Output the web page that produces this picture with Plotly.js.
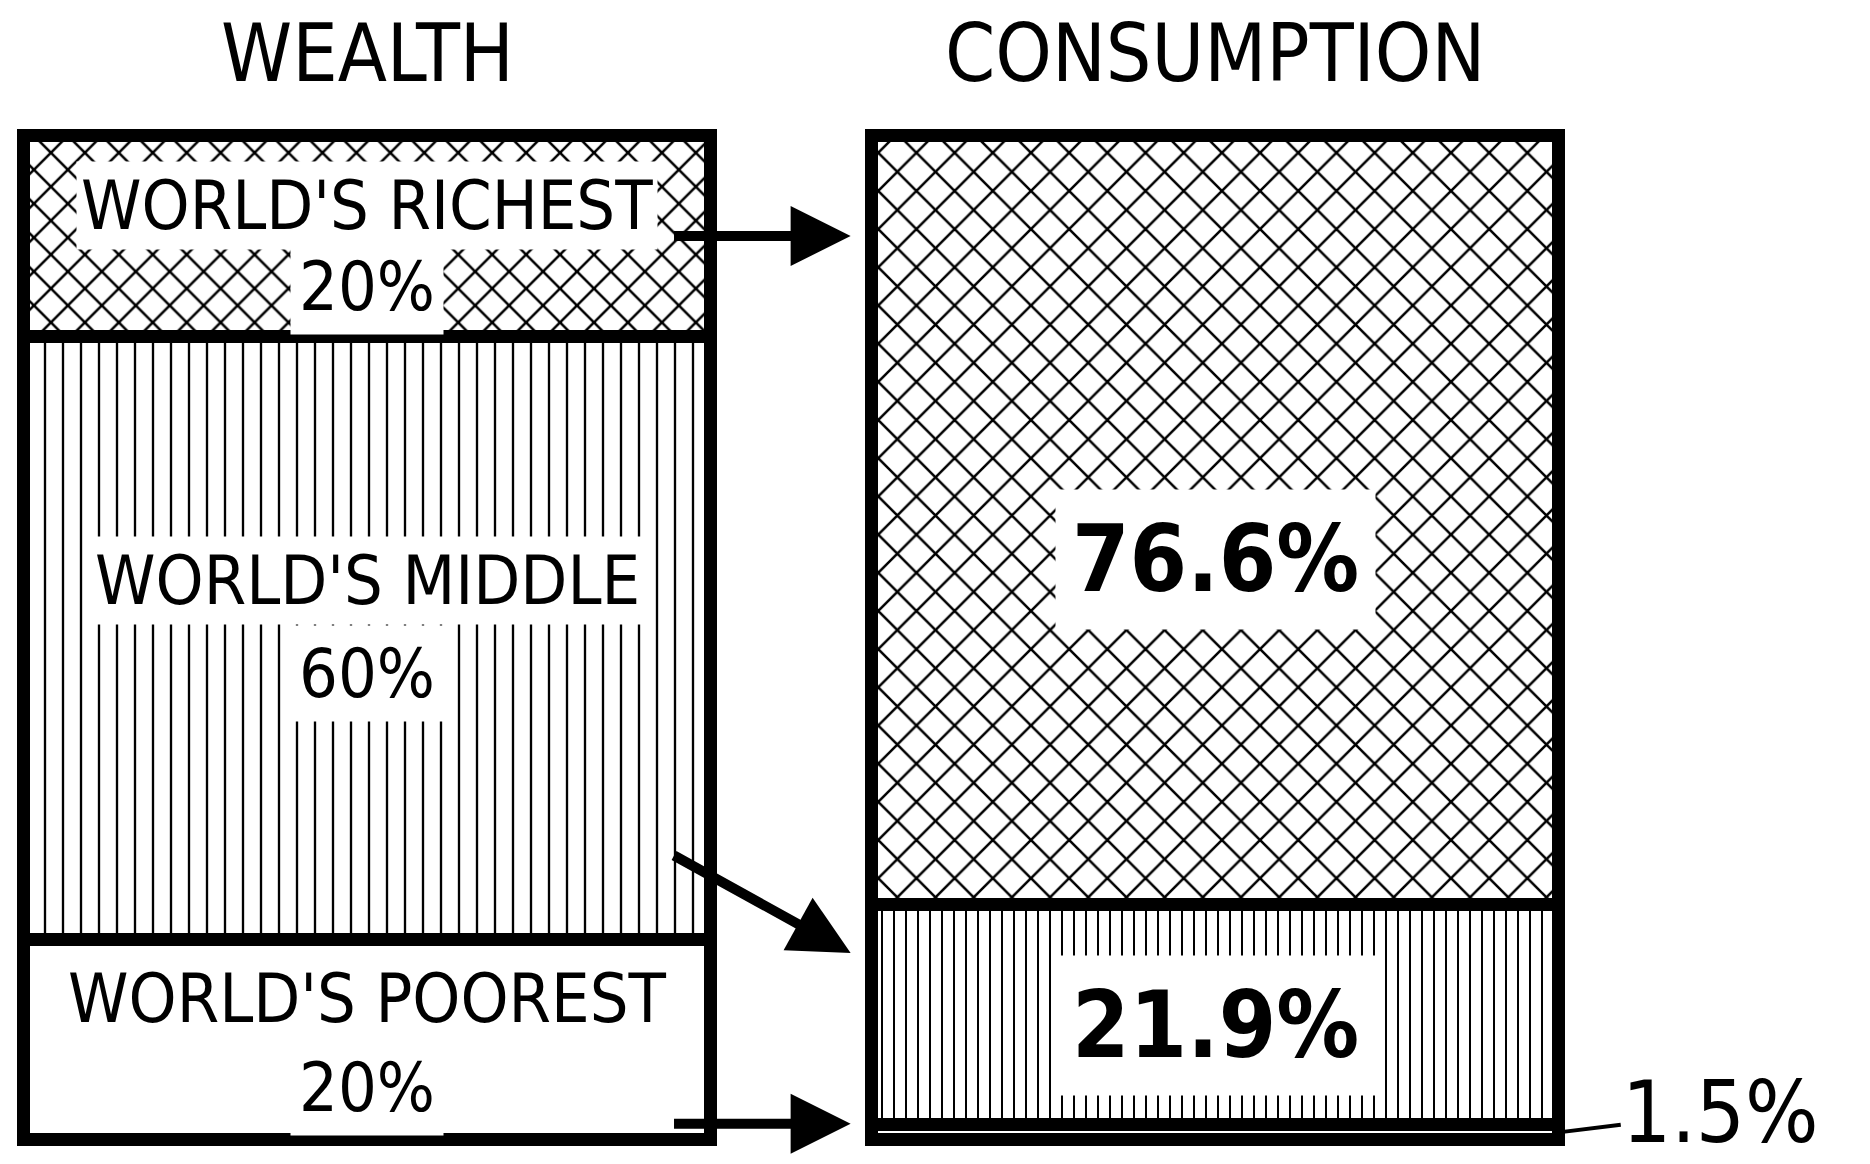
<!DOCTYPE html>
<html>
<head>
<meta charset="utf-8">
<script src="https://cdn.plot.ly/plotly-3.0.1.min.js"></script>
<style>html,body{margin:0;padding:0;background:#fff}#chart{width:1870px;height:1164px}</style>
</head>
<body>
<div id="chart"></div>
<script>
// ---- data ----
const columns = ['WEALTH', 'CONSUMPTION'];
const segmentNames = ["WORLD'S POOREST", "WORLD'S MIDDLE", "WORLD'S RICHEST"];
const wealthShares = [20, 60, 20];          // poorest, middle, richest
const consumptionShares = [1.5, 21.9, 76.6]; // poorest, middle, richest

// ---- styling ----
const FONT = '"Liberation Sans Narrow", "DejaVu Sans Condensed", "Roboto Condensed", "Liberation Sans", sans-serif';
const patterns = [
  {shape: '', size: [20, 20], solidity: [0.1, 0.1]},
  {shape: '|', size: [18, 12], solidity: [0.13, 0.17]},
  {shape: 'x', size: [24, 27], solidity: [0.2, 0.18]}
];
const nameShift = [41, 57, 31];
const pctShift = [-48, -36, -50];
const xs = [0, 1];
const BARW = 0.81;

const traces = segmentNames.map((name, i) => ({
  type: 'bar',
  name: name,
  x: xs,
  y: [wealthShares[i], consumptionShares[i]],
  width: BARW,
  marker: {
    color: '#ffffff',
    line: {color: '#000000', width: 13},
    pattern: {
      shape: patterns[i].shape,
      fgcolor: '#000000',
      fgopacity: 1,
      bgcolor: '#ffffff',
      size: patterns[i].size,
      solidity: patterns[i].solidity,
      fillmode: 'overlay'
    }
  },
  hoverinfo: 'skip',
  showlegend: false
}));

function cum(arr) { let s = 0; return arr.map(v => (s += v)); }
const wCum = cum(wealthShares), cCum = cum(consumptionShares);
const wMid = wealthShares.map((v, i) => wCum[i] - v / 2);
const cMid = consumptionShares.map((v, i) => cCum[i] - v / 2);
const total = 100;

const annotations = [];
// column titles
columns.forEach((c, i) => annotations.push({
  x: xs[i], y: total, xref: 'x', yref: 'y', yanchor: 'bottom', yshift: 34,
  text: c, showarrow: false, font: {family: FONT, size: 80, color: '#000'}
}));
// wealth labels
segmentNames.forEach((n, i) => {
  annotations.push({
    x: xs[0], y: wMid[i], xref: 'x', yref: 'y', yshift: nameShift[i],
    text: n, showarrow: false,
    font: {family: FONT, size: 68, color: '#000'},
    bgcolor: '#ffffff', borderpad: 4
  });
  annotations.push({
    x: xs[0], y: wMid[i], xref: 'x', yref: 'y', yshift: pctShift[i],
    text: wealthShares[i] + '%', showarrow: false,
    font: {family: FONT, size: 68, color: '#000'},
    bgcolor: '#ffffff', borderpad: 8
  });
});
// consumption labels (middle, richest)
[2, 1].forEach(i => annotations.push({
  x: xs[1], y: cMid[i], xref: 'x', yref: 'y',
  text: consumptionShares[i].toFixed(1) + '%', showarrow: false,
  yshift: i === 2 ? -39 : -11,
  font: {family: FONT, size: 92, color: '#000', weight: 700},
  bgcolor: '#ffffff', borderpad: 16
}));
// poorest consumption label with leader line
annotations.push({
  x: xs[1] + BARW / 2, y: consumptionShares[0] / 2, xref: 'x', yref: 'y',
  text: consumptionShares[0].toFixed(1) + '%', showarrow: true, arrowhead: 0,
  arrowwidth: 4, arrowcolor: '#000', ax: 162, ay: -20,
  font: {family: FONT, size: 86, color: '#000'}
});
// flow arrows between columns
const tailX = xs[0] + BARW / 2 - 0.045, headX = xs[1] - BARW / 2 - 0.025;
const flows = [
  {from: wMid[2], to: wMid[2]},
  {from: wCum[0] + wealthShares[1] * 0.14, to: cCum[1] - 4.8},
  {from: wealthShares[0] * 0.08, to: wealthShares[0] * 0.08}
];
flows.forEach(f => annotations.push({
  x: headX, y: f.to, ax: tailX, ay: f.from,
  xref: 'x', yref: 'y', axref: 'x', ayref: 'y',
  text: '', showarrow: true, arrowhead: 2, arrowsize: 1.2,
  arrowwidth: 10, arrowcolor: '#000', standoff: 0
}));

const layout = {
  width: 1870, height: 1164,
  margin: {l: 0, r: 0, t: 0, b: 0},
  paper_bgcolor: '#ffffff', plot_bgcolor: '#ffffff',
  barmode: 'stack',
  xaxis: {range: [-0.433, 1.772], visible: false, fixedrange: true},
  yaxis: {range: [-2.4, 113.5], visible: false, fixedrange: true},
  annotations: annotations,
  showlegend: false
};

Plotly.newPlot('chart', traces, layout, {displayModeBar: false, staticPlot: true});
</script>
</body>
</html>
